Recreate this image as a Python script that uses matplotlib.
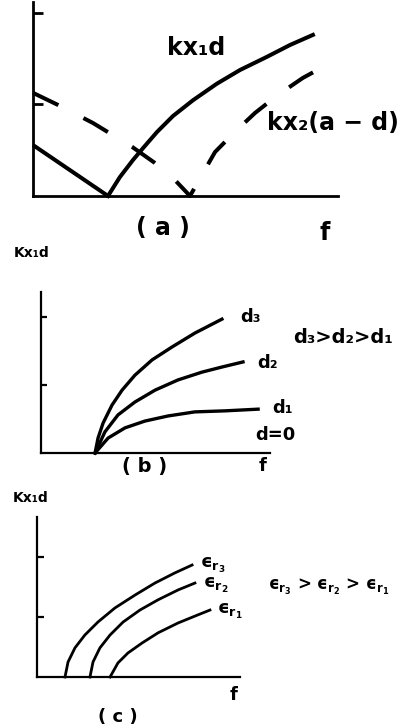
import matplotlib.pyplot as plt

plt.rcParams["mathtext.fontset"] = "dejavusans"

# ---- panel (a): kx1*d (solid) and kx2*(a-d) (dashed) against f
a_left_f = [0.0, 2.46]
a_left_k = [1.67, 0.0]
a_kx1_f = [2.46, 2.85, 3.28, 3.61, 4.07, 4.59, 5.25, 6.03, 6.79, 7.67, 8.43, 9.18]
a_kx1_k = [0.0, 0.62, 1.18, 1.57, 2.10, 2.62, 3.14, 3.68, 4.13, 4.56, 4.95, 5.28]
a_kx2_f = [0.0, 0.89, 1.97, 2.66, 3.25, 4.00, 4.59, 5.15,
           5.54, 5.97, 6.62, 7.28, 8.03, 8.85, 9.64]
a_kx2_k = [3.38, 2.95, 2.39, 1.97, 1.61, 1.08, 0.59, 0.0,
           0.69, 1.44, 2.10, 2.72, 3.31, 3.87, 4.30]
a_ticks = [3, 6]

# ---- panel (b): kx1*d for three thicknesses d
b_d3_f = [2.36, 2.49, 2.71, 3.10, 3.54, 4.10, 4.85, 5.72, 6.72, 7.90]
b_d3_k = [0.0, 0.44, 0.88, 1.41, 1.85, 2.29, 2.74, 3.12, 3.53, 3.94]
b_d2_f = [2.36, 2.79, 3.36, 4.10, 4.98, 5.98, 7.03, 7.90, 8.82]
b_d2_k = [0.0, 0.62, 1.12, 1.50, 1.85, 2.15, 2.38, 2.53, 2.68]
b_d1_f = [2.36, 2.93, 3.67, 4.54, 5.55, 6.72, 8.03, 9.48]
b_d1_k = [0.0, 0.44, 0.74, 0.94, 1.09, 1.21, 1.24, 1.29]
b_ticks = [2, 4]

# ---- panel (c): kx1*d for three permittivities
c_e3_f = [1.38, 1.53, 1.87, 2.36, 3.00, 3.84, 4.83, 5.81, 6.80, 7.64]
c_e3_k = [0.0, 0.50, 0.97, 1.40, 1.83, 2.30, 2.73, 3.13, 3.47, 3.73]
c_e2_f = [2.61, 2.76, 3.10, 3.60, 4.24, 5.07, 5.96, 6.95, 7.78]
c_e2_k = [0.0, 0.50, 0.97, 1.40, 1.83, 2.23, 2.57, 2.90, 3.13]
c_e1_f = [3.60, 3.99, 4.48, 5.17, 5.96, 6.95, 7.93, 8.52]
c_e1_k = [0.0, 0.47, 0.80, 1.13, 1.47, 1.80, 2.07, 2.23]
c_ticks = [2, 4]

BOLD = dict(fontweight="bold", family="DejaVu Sans", color="black")


def setup(ax, xmax, ymax, ticks, spine_w, tick_len):
    ax.set_xlim(0, xmax)
    ax.set_ylim(0, ymax)
    for s in ["top", "right"]:
        ax.spines[s].set_visible(False)
    for s in ["left", "bottom"]:
        ax.spines[s].set_linewidth(spine_w)
    ax.set_xticks([])
    ax.set_yticks(ticks)
    ax.set_yticklabels([])
    ax.tick_params(axis="y", direction="in", length=tick_len, width=spine_w)
    ax.patch.set_alpha(0)


def eps(n):
    return "ϵ" + r"$_{\mathbf{r}_{\mathbf{%s}}}$" % n


fig = plt.figure(figsize=(4.16, 7.25), dpi=100)

# (a)
ax = fig.add_axes([0.0793, 0.7297, 0.733, 0.2676])
setup(ax, 10.0, 6.36, a_ticks, 2.0, 7)
ax.plot(a_left_f, a_left_k, color="black", lw=2.9, solid_capstyle="butt", clip_on=False)
ax.plot(a_kx1_f, a_kx1_k, color="black", lw=2.9, solid_joinstyle="round", clip_on=False)
ax.plot(a_kx2_f, a_kx2_k, color="black", lw=2.9, dashes=(7, 7), clip_on=False)
ax.text(4.39, 4.62, "kx₁d", fontsize=17, ha="left", va="baseline", **BOLD)
ax.text(7.67, 2.16, "kx₂(a − d)", fontsize=17, ha="left", va="baseline", clip_on=False, **BOLD)
ax.text(4.26, -1.05, "( a )", fontsize=17, ha="center", va="center", **BOLD)
ax.text(9.57, -1.21, "f", fontsize=17, ha="center", va="center", **BOLD)

# (b)
ax = fig.add_axes([0.0986, 0.3752, 0.5505, 0.2221])
setup(ax, 10.0, 4.74, b_ticks, 1.6, 4.5)
for fx, ky in [(b_d3_f, b_d3_k), (b_d2_f, b_d2_k), (b_d1_f, b_d1_k)]:
    ax.plot(fx, ky, color="black", lw=2.4, solid_joinstyle="round", clip_on=False)
ax.text(8.69, 3.85, "d₃", fontsize=13, ha="left", va="baseline", **BOLD)
ax.text(9.43, 2.50, "d₂", fontsize=13, ha="left", va="baseline", **BOLD)
ax.text(10.09, 1.18, "d₁", fontsize=13, ha="left", va="baseline", **BOLD)
ax.text(9.34, 0.38, "d=0", fontsize=13, ha="left", va="baseline", **BOLD)
ax.text(11.0, 3.24, "d₃>d₂>d₁", fontsize=14, ha="left", va="baseline", **BOLD)
ax.text(4.54, -0.41, "( b )", fontsize=14, ha="center", va="center", **BOLD)
ax.text(9.69, -0.38, "f", fontsize=13, ha="center", va="center", **BOLD)
ax.text(-0.39, 5.88, "Kx₁d", fontsize=10, ha="center", va="center", **BOLD)

# (c)
ax = fig.add_axes([0.0889, 0.0662, 0.488, 0.2207])
setup(ax, 10.0, 5.33, c_ticks, 1.6, 5)
for fx, ky in [(c_e3_f, c_e3_k), (c_e2_f, c_e2_k), (c_e1_f, c_e1_k)]:
    ax.plot(fx, ky, color="black", lw=2.0, solid_joinstyle="round", clip_on=False)
ax.text(8.03, 3.63, eps(3), fontsize=13, ha="left", va="baseline", **BOLD)
ax.text(8.18, 2.97, eps(2), fontsize=13, ha="left", va="baseline", **BOLD)
ax.text(8.87, 2.10, eps(1), fontsize=13, ha="left", va="baseline", **BOLD)
ax.text(11.38, 3.0, eps(3) + " > " + eps(2) + " > " + eps(1),
        fontsize=12, ha="left", va="center", **BOLD)
ax.text(9.66, -0.6, "f", fontsize=13, ha="center", va="center", **BOLD)
ax.text(3.99, -1.33, "( c )", fontsize=13, ha="center", va="center", **BOLD)
ax.text(-0.3, 5.97, "Kx₁d", fontsize=10, ha="center", va="center", **BOLD)

fig.savefig("out.png", dpi=100)
